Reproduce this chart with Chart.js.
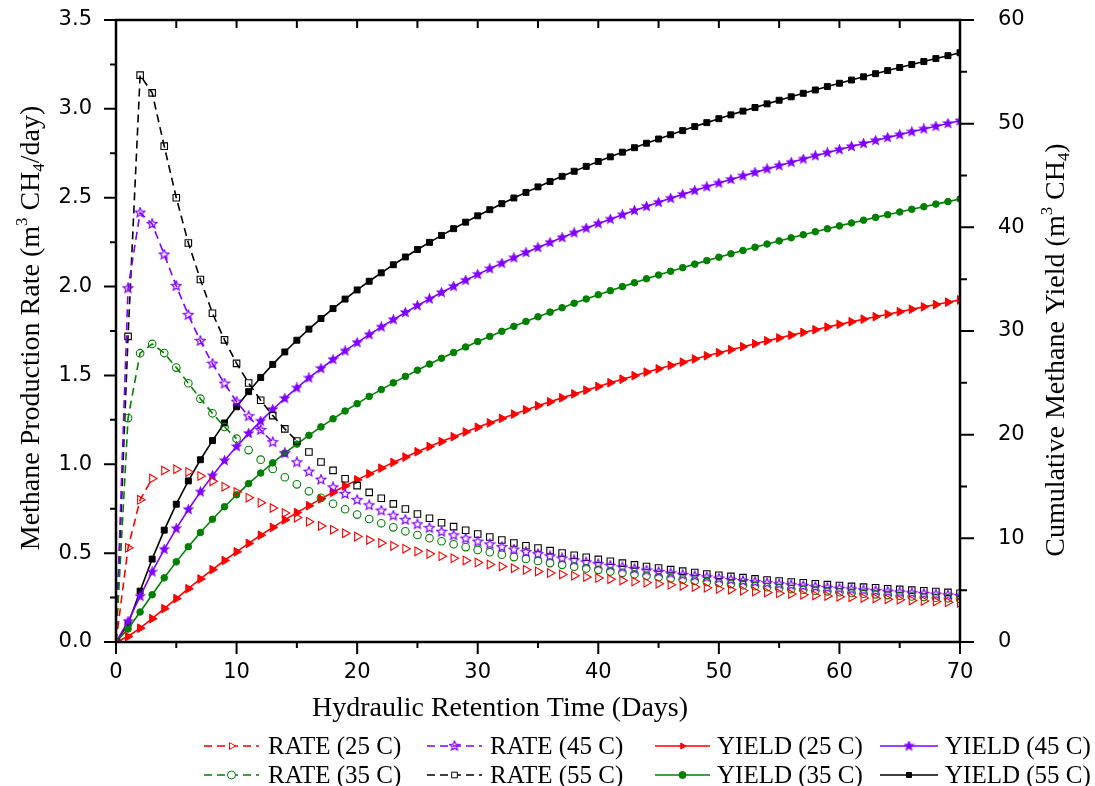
<!DOCTYPE html>
<html>
<head>
<meta charset="utf-8">
<script src="https://cdn.jsdelivr.net/npm/chart.js@4.4.0/dist/chart.umd.min.js"></script>
<style>
html, body { margin: 0; padding: 0; background: #fff; }
#wrap { width: 1095px; height: 786px; position: relative; }
</style>
</head>
<body>
<div id="wrap"><canvas id="methaneChart"></canvas></div>
<script>
// hydraulic retention time (days)
const days = [0,1,2,3,4,5,6,7,8,9,10,11,12,13,14,15,16,17,18,19,20,21,22,23,24,25,26,27,28,29,30,
  31,32,33,34,35,36,37,38,39,40,41,42,43,44,45,46,47,48,49,50,51,52,53,54,55,56,57,58,59,60,
  61,62,63,64,65,66,67,68,69,70];

// methane production rate (m3 CH4/day)
const rate25 = [0,0.53,0.80,0.92,0.965,0.972,0.957,0.934,0.904,0.874,0.844,
  0.812,0.784,0.754,0.726,0.700,0.677,0.653,0.632,0.612,0.593,
  0.574,0.557,0.541,0.525,0.510,0.496,0.483,0.471,0.459,0.447,
  0.436,0.425,0.415,0.406,0.397,0.388,0.380,0.373,0.366,0.360,
  0.353,0.346,0.340,0.334,0.328,0.322,0.316,0.310,0.305,0.299,
  0.294,0.289,0.284,0.279,0.274,0.270,0.266,0.262,0.259,0.255,
  0.252,0.248,0.245,0.241,0.238,0.234,0.231,0.228,0.224,0.221];
const rate35 = [0,1.26,1.625,1.677,1.626,1.544,1.456,1.369,1.287,1.210,1.144,
  1.080,1.026,0.974,0.927,0.887,0.848,0.811,0.778,0.747,0.717,
  0.692,0.668,0.645,0.623,0.602,0.584,0.567,0.550,0.534,0.518,
  0.505,0.491,0.478,0.467,0.456,0.444,0.434,0.424,0.414,0.406,
  0.397,0.389,0.381,0.373,0.365,0.358,0.351,0.344,0.338,0.332,
  0.326,0.320,0.314,0.308,0.303,0.298,0.294,0.289,0.285,0.280,
  0.276,0.272,0.268,0.264,0.260,0.256,0.253,0.249,0.246,0.242];
const rate45 = [0,1.99,2.416,2.352,2.18,2.003,1.840,1.694,1.566,1.454,1.352,
  1.270,1.193,1.124,1.062,1.011,0.958,0.913,0.870,0.833,0.799,
  0.769,0.739,0.711,0.687,0.662,0.641,0.620,0.600,0.582,0.565,
  0.549,0.534,0.520,0.506,0.494,0.482,0.470,0.459,0.448,0.438,
  0.429,0.420,0.411,0.402,0.394,0.386,0.378,0.371,0.364,0.357,
  0.350,0.343,0.337,0.331,0.325,0.320,0.315,0.310,0.305,0.300,
  0.296,0.291,0.287,0.283,0.279,0.275,0.271,0.267,0.263,0.259];
const rate55 = [0,1.72,3.19,3.09,2.79,2.50,2.245,2.04,1.85,1.70,1.568,
  1.457,1.36,1.274,1.199,1.131,1.069,1.013,0.966,0.919,0.880,
  0.842,0.809,0.777,0.748,0.720,0.696,0.671,0.649,0.629,0.608,
  0.591,0.574,0.557,0.542,0.529,0.514,0.501,0.488,0.477,0.465,
  0.454,0.444,0.434,0.425,0.416,0.407,0.399,0.391,0.383,0.376,
  0.369,0.362,0.355,0.349,0.343,0.338,0.333,0.328,0.323,0.318,
  0.313,0.309,0.305,0.300,0.296,0.292,0.288,0.284,0.279,0.274];

// cumulative methane yield (m3 CH4)
const yield25 = [0,0.53,1.33,2.25,3.22,4.19,5.14,6.08,6.98,7.86,8.70,
  9.51,10.30,11.05,11.78,12.48,13.15,13.81,14.44,15.05,15.64,
  16.22,16.77,17.32,17.84,18.35,18.85,19.33,19.80,20.26,20.71,
  21.14,21.57,21.98,22.39,22.79,23.17,23.55,23.93,24.29,24.65,
  25.01,25.35,25.69,26.03,26.35,26.68,26.99,27.30,27.61,27.91,
  28.20,28.49,28.77,29.05,29.33,29.60,29.86,30.12,30.38,30.64,
  30.89,31.14,31.38,31.62,31.86,32.10,32.33,32.55,32.78,33.00];
const yield35 = [0,1.26,2.89,4.56,6.19,7.73,9.19,10.56,11.84,13.05,14.20,
  15.28,16.30,17.28,18.21,19.09,19.94,20.75,21.53,22.28,22.99,
  23.69,24.35,25.00,25.62,26.22,26.81,27.37,27.92,28.46,28.98,
  29.48,29.97,30.45,30.92,31.37,31.82,32.25,32.68,33.09,33.50,
  33.89,34.28,34.66,35.04,35.40,35.76,36.11,36.45,36.79,37.12,
  37.45,37.77,38.08,38.39,38.69,38.99,39.29,39.58,39.86,40.14,
  40.42,40.69,40.96,41.22,41.48,41.74,41.99,42.24,42.48,42.73];
const yield45 = [0,1.99,4.41,6.76,8.94,10.94,12.78,14.48,16.04,17.50,18.85,
  20.12,21.31,22.43,23.50,24.51,25.47,26.38,27.25,28.08,28.88,
  29.65,30.39,31.10,31.79,32.45,33.09,33.71,34.31,34.89,35.46,
  36.01,36.54,37.06,37.57,38.06,38.54,39.01,39.47,39.92,40.36,
  40.79,41.21,41.62,42.02,42.41,42.80,43.18,43.55,43.91,44.27,
  44.62,44.96,45.30,45.63,45.95,46.27,46.59,46.90,47.20,47.50,
  47.80,48.09,48.38,48.66,48.94,49.22,49.49,49.75,50.02,50.28];
const yield55 = [0,1.72,4.91,8.00,10.79,13.29,15.54,17.58,19.43,21.13,22.69,
  24.15,25.51,26.78,27.98,29.11,30.18,31.20,32.16,33.08,33.96,
  34.80,35.61,36.39,37.14,37.86,38.55,39.22,39.87,40.50,41.11,
  41.70,42.28,42.83,43.37,43.90,44.42,44.92,45.41,45.88,46.35,
  46.80,47.25,47.68,48.11,48.52,48.93,49.33,49.72,50.10,50.48,
  50.85,51.21,51.56,51.91,52.26,52.59,52.93,53.25,53.58,53.90,
  54.21,54.52,54.82,55.12,55.42,55.71,56.00,56.28,56.56,56.84];

const RED = '#ff0000', GREEN = '#008000', PURPLE = '#8000ff', BLACK = '#000000';

// star marker (chart.js 'star' is an asterisk)
function makeStar(size, color, filled) {
    const c = document.createElement('canvas');
    c.width = size; c.height = size;
    const g = c.getContext('2d');
    const cx = size / 2, cy = size / 2, R = size / 2 - 1, r = R * 0.45;
    g.beginPath();
    for (let i = 0; i < 10; i++) {
        const a = -Math.PI / 2 + i * Math.PI / 5;
        const rr = i % 2 ? r : R;
        g.lineTo(cx + rr * Math.cos(a), cy + rr * Math.sin(a));
    }
    g.closePath();
    if (filled) { g.fillStyle = color; g.fill(); }
    g.strokeStyle = color; g.lineWidth = 1.2; g.stroke();
    return c;
}
const starOpen = makeStar(12, PURPLE, false);
const starFull = makeStar(11, PURPLE, true);

const toXY = arr => days.map((d, i) => ({ x: d, y: arr[i] }));

// dashed line only drawn over the first points, markers only after that
function rateSet(label, arr, color, style, radius, rotation, lastLine) {
    return {
        label, data: toXY(arr), yAxisID: 'y',
        borderColor: color, borderWidth: 1.6, borderDash: [8, 5],
        pointStyle: style, pointRadius: radius, pointRotation: rotation,
        pointBorderColor: color, pointBackgroundColor: 'rgba(0,0,0,0)', pointBorderWidth: 1.1,
        segment: { borderColor: ctx => ctx.p1DataIndex > lastLine ? 'rgba(0,0,0,0)' : undefined },
        tension: 0, kind: 'rate'
    };
}
function yieldSet(label, arr, color, style, radius, rotation) {
    return {
        label, data: toXY(arr), yAxisID: 'y2',
        borderColor: color, borderWidth: 1.6,
        pointStyle: style, pointRadius: radius, pointRotation: rotation,
        pointBorderColor: color, pointBackgroundColor: color, pointBorderWidth: 1,
        tension: 0, kind: 'yield'
    };
}

const datasets = [
    rateSet('RATE (25 C)', rate25, RED, 'triangle', 5, 90, 3),
    rateSet('RATE (35 C)', rate35, GREEN, 'circle', 3.8, 0, 10),
    rateSet('RATE (45 C)', rate45, PURPLE, starOpen, 5, 0, 13),
    rateSet('RATE (55 C)', rate55, BLACK, 'rect', 4.6, 0, 15),
    yieldSet('YIELD (25 C)', yield25, RED, 'triangle', 5, 90),
    yieldSet('YIELD (35 C)', yield35, GREEN, 'circle', 3.3),
    yieldSet('YIELD (45 C)', yield45, PURPLE, starFull, 5),
    yieldSet('YIELD (55 C)', yield55, BLACK, 'rect', 4.2)
];

// legend slots: [line start, line end, text x, row y]
const legendSlots = [
    [204, 259, 268, 746], [204, 259, 268, 775],
    [427, 482, 490, 746], [427, 482, 490, 775],
    [655, 710, 717, 746], [655, 710, 717, 775],
    [880, 938, 945, 746], [880, 938, 945, 775]
];
const legendOrder = [0, 1, 2, 3, 4, 5, 6, 7];

function drawRich(ctx, parts, cx, cy, rot, size) {
    const fam = '"Liberation Serif", "Times New Roman", serif';
    let total = 0;
    parts.forEach(p => {
        ctx.font = (p.s ? size * 0.6 : size) + 'px ' + fam;
        p.w = ctx.measureText(p.t).width;
        total += p.w;
    });
    ctx.save();
    ctx.translate(cx, cy);
    ctx.rotate(rot);
    ctx.fillStyle = '#000';
    ctx.textBaseline = 'alphabetic';
    let x = -total / 2;
    parts.forEach(p => {
        ctx.font = (p.s ? size * 0.6 : size) + 'px ' + fam;
        const dy = p.s === 1 ? -size * 0.42 : (p.s === -1 ? size * 0.18 : 0);
        ctx.fillText(p.t, x, size * 0.33 + dy);
        x += p.w;
    });
    ctx.restore();
}

const framePlugin = {
    id: 'frame',
    afterDraw(chart) {
        const { ctx, chartArea: a, scales } = chart;
        const sx = scales.x, sy = scales.y, sy2 = scales.y2;
        ctx.save();
        ctx.strokeStyle = '#000';
        ctx.setLineDash([]);
        ctx.lineWidth = 2.5;
        ctx.strokeRect(a.left, a.top, a.right - a.left, a.bottom - a.top);
        ctx.lineWidth = 2;
        ctx.beginPath();
        for (let i = 0; i <= 14; i++) {
            const px = sx.getPixelForValue(i * 5);
            const len = i % 2 === 0 ? 12 : 6;
            ctx.moveTo(px, a.bottom); ctx.lineTo(px, a.bottom + len);
            ctx.moveTo(px, a.top); ctx.lineTo(px, a.top + 8);
        }
        for (let i = 0; i <= 14; i++) {
            const py = sy.getPixelForValue(i * 0.25);
            const len = i % 2 === 0 ? 12 : 6;
            ctx.moveTo(a.left, py); ctx.lineTo(a.left - len, py);
        }
        for (let i = 0; i <= 12; i++) {
            const py = sy2.getPixelForValue(i * 5);
            const len = i % 2 === 0 ? 14 : 7;
            ctx.moveTo(a.right, py); ctx.lineTo(a.right + len, py);
        }
        ctx.stroke();

        // axis titles
        drawRich(ctx, [{ t: 'Methane Production Rate (m' }, { t: '3', s: 1 }, { t: ' CH' }, { t: '4', s: -1 }, { t: '/day)' }],
            30, 328, -Math.PI / 2, 28);
        drawRich(ctx, [{ t: 'Cumulative Methane Yield (m' }, { t: '3', s: 1 }, { t: ' CH' }, { t: '4', s: -1 }, { t: ')' }],
            1055, 350, -Math.PI / 2, 28);
        drawRich(ctx, [{ t: 'Hydraulic Retention Time (Days)' }], 500, 707, 0, 28);

        // legend
        legendOrder.forEach((di, k) => {
            const ds = chart.data.datasets[di];
            const [x0, x1, tx, ly] = legendSlots[k];
            ctx.strokeStyle = ds.borderColor;
            ctx.lineWidth = 1.6;
            ctx.setLineDash(ds.kind === 'rate' ? [8, 5] : []);
            ctx.beginPath(); ctx.moveTo(x0, ly); ctx.lineTo(x1, ly); ctx.stroke();
            ctx.setLineDash([]);
            ctx.fillStyle = ds.kind === 'rate' ? '#fff' : ds.borderColor;
            ctx.lineWidth = 1;
            Chart.helpers.drawPoint(ctx, {
                pointStyle: ds.pointStyle, rotation: ds.pointRotation || 0,
                radius: ds.kind === 'rate' ? 4 : 3.5, borderWidth: 1
            }, (x0 + x1) / 2, ly);
            ctx.fillStyle = '#000';
            ctx.font = '25px "Liberation Serif", "Times New Roman", serif';
            ctx.textBaseline = 'middle';
            ctx.fillText(ds.label, tx, ly + 1);
        });
        ctx.restore();
    }
};

const tickFont = { family: '"DejaVu Sans", Arial, sans-serif', size: 21 };

// pin the plot box: no extra label overhang padding
function pinY(width) {
    return s => { s.width = width; s.paddingTop = 0; s.paddingBottom = 0; };
}

new Chart(document.getElementById('methaneChart'), {
    type: 'line',
    data: { datasets },
    options: {
        responsive: true,
        maintainAspectRatio: false,
        animation: false,
        layout: { padding: { top: 20, left: 0, right: 0, bottom: 0 } },
        plugins: { legend: { display: false }, tooltip: { enabled: false } },
        scales: {
            x: {
                type: 'linear', min: 0, max: 70,
                grid: { display: false }, border: { display: false },
                ticks: { stepSize: 10, font: tickFont, color: '#000', padding: 10, maxRotation: 0 },
                afterFit: s => { s.height = 144; s.paddingLeft = 0; s.paddingRight = 0; }
            },
            y: {
                type: 'linear', position: 'left', min: 0, max: 3.5,
                grid: { display: false }, border: { display: false },
                ticks: { stepSize: 0.5, font: tickFont, color: '#000', padding: 16, callback: v => v.toFixed(1) },
                afterFit: pinY(116)
            },
            y2: {
                type: 'linear', position: 'right', min: 0, max: 60,
                grid: { display: false }, border: { display: false },
                ticks: { stepSize: 10, font: tickFont, color: '#000', padding: 30 },
                afterFit: pinY(135)
            }
        }
    },
    plugins: [framePlugin]
});
</script>
</body>
</html>
